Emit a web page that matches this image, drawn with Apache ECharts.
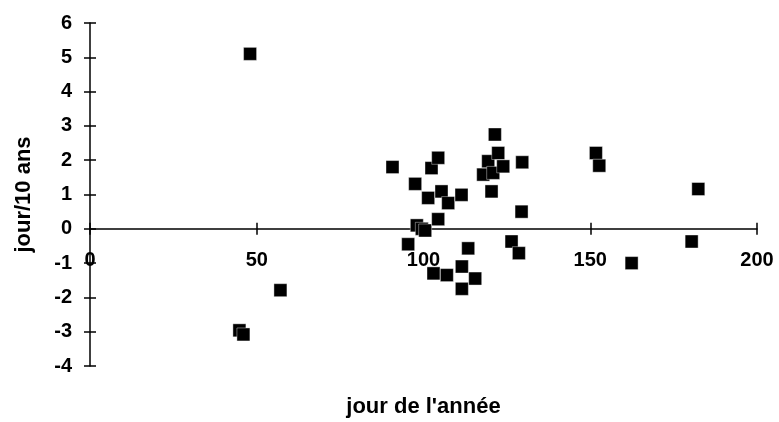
<!DOCTYPE html>
<html>
<head>
<meta charset="utf-8">
<script src="https://cdn.jsdelivr.net/npm/echarts@6/dist/echarts.min.js"></script>
<style>
  html, body { margin: 0; padding: 0; background: #fff; }
  #chart { width: 779px; height: 422px; }
</style>
</head>
<body>
<div id="chart"></div>
<script>
// day of year and trend (days per 10 years)
const dayOfYear = [
  48, 44.8, 46, 57.1, 90.7, 97.5, 98, 99.5, 100.5, 95.4,
  101.4, 102.4, 104.4, 105.4, 107.4, 104.4, 111.4, 103, 107, 111.5,
  115.5, 111.5, 113.4, 117.9, 119.4, 120.9, 122.4, 121.4, 123.9, 120.4,
  129.6, 129.4, 126.4, 128.6, 151.7, 152.7, 162.4, 180.4, 182.4
];
const trend = [
  5.1, -2.96, -3.08, -1.79, 1.8, 1.31, 0.1, 0.0, -0.05, -0.45,
  0.9, 1.77, 2.07, 1.09, 0.75, 0.28, 0.99, -1.3, -1.35, -1.1,
  -1.45, -1.75, -0.57, 1.58, 1.97, 1.63, 2.21, 2.75, 1.82, 1.09,
  1.94, 0.5, -0.37, -0.71, 2.21, 1.84, -1.0, -0.37, 1.16
];
const xTitle = "jour de l'année";
const yTitle = 'jour/10 ans';

const font = 'Liberation Sans, Arial, sans-serif';
const points = dayOfYear.map((d, i) => [d, trend[i]]);

// grid in pixels; the x axis crosses at y = 0
const gridLeft = 90, gridRight = 22, gridTop = 23, gridBottom = 56;
const W = 779, H = 422;
const yMin = -4, yMax = 6;
const gridH = H - gridTop - gridBottom;
const gridW = W - gridLeft - gridRight;
const zeroFromTop = gridH * yMax / (yMax - yMin);
const zeroFromBottom = gridH - zeroFromTop;

const chart = echarts.init(document.getElementById('chart'));

const line = { color: '#000', width: 1.5 };
const bold = { color: '#000', fontFamily: font, fontWeight: 'bold', fontSize: 20 };
const boldName = Object.assign({}, bold, { fontSize: 22 });

const option = {
  backgroundColor: '#fff',
  animation: false,
  grid: { left: gridLeft, right: gridRight, top: gridTop, bottom: gridBottom, outerBoundsMode: 'none' },
  xAxis: [
    {
      type: 'value',
      position: 'bottom',
      offset: -zeroFromBottom,
      min: 0,
      max: 200,
      interval: 50,
      name: xTitle,
      nameLocation: 'middle',
      nameGap: 167,
      nameTextStyle: boldName,
      axisLine: { onZero: false, lineStyle: line },
      axisTick: { show: true, length: 6, lineStyle: line },
      axisLabel: Object.assign({ margin: 22 }, bold),
      splitLine: { show: false }
    },
    {
      type: 'value',
      position: 'top',
      offset: -zeroFromTop,
      min: 0,
      max: 200,
      interval: 50,
      axisLine: { show: false, onZero: false },
      axisTick: { show: true, length: 6, lineStyle: line },
      axisLabel: { show: false },
      splitLine: { show: false }
    }
  ],
  yAxis: [
    {
      type: 'value',
      position: 'left',
      min: yMin,
      max: yMax,
      interval: 1,
      name: yTitle,
      nameLocation: 'middle',
      nameGap: 55,
      nameRotate: 90,
      nameTextStyle: boldName,
      axisLine: { onZero: false, lineStyle: line },
      axisTick: { show: true, length: 6, lineStyle: line },
      axisLabel: Object.assign({ margin: 18 }, bold),
      splitLine: { show: false }
    },
    {
      type: 'value',
      position: 'right',
      offset: -gridW,
      min: yMin,
      max: yMax,
      interval: 1,
      axisLine: { show: false, onZero: false },
      axisTick: { show: true, length: 6, lineStyle: line },
      axisLabel: { show: false },
      splitLine: { show: false }
    }
  ],
  series: [
    {
      type: 'scatter',
      xAxisIndex: 0,
      yAxisIndex: 0,
      symbol: 'rect',
      symbolSize: 13,
      data: points,
      itemStyle: { color: '#000', opacity: 1, borderColor: '#fff', borderWidth: 0.4 }
    }
  ]
};

chart.setOption(option);
</script>
</body>
</html>
